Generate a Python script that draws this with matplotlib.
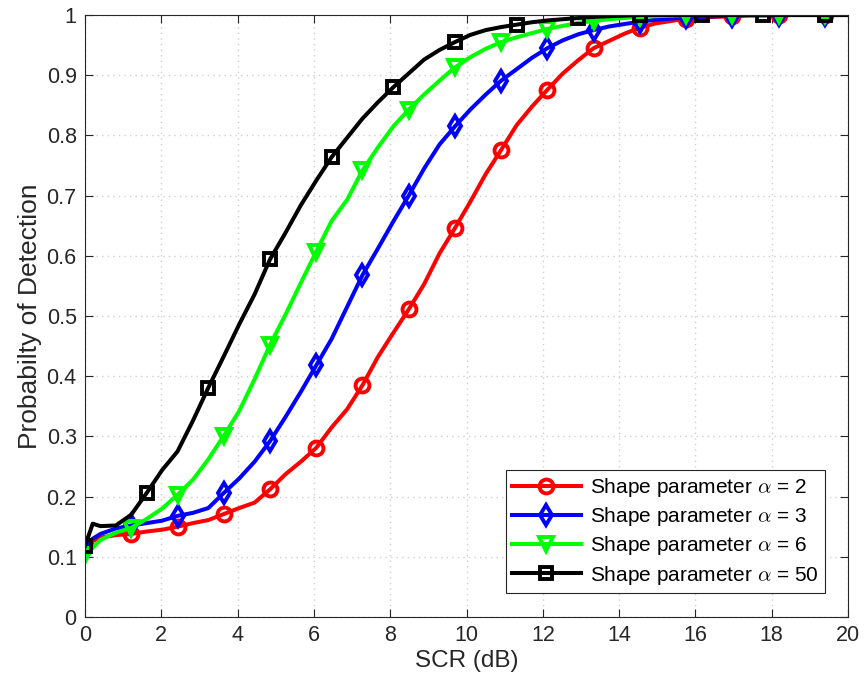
import numpy as np
import matplotlib
matplotlib.use("Agg")
import matplotlib.pyplot as plt

plt.rcParams['font.family'] = ['Liberation Sans', 'DejaVu Sans']
plt.rcParams['mathtext.fontset'] = 'cm'

# SCR sweep: 100 points from 0 to 20 dB; curves are stored at a subset of them
SCR_GRID = np.linspace(0, 20, 100)
SAMPLE_IDX = [0, 1] + list(range(2, 100, 2)) + [99]

PD_ALPHA_2 = [0.120, 0.126, 0.132, 0.136, 0.138, 0.142, 0.145, 0.150, 0.156, 0.161,
              0.171, 0.181, 0.190, 0.212, 0.237, 0.258, 0.281, 0.315, 0.345, 0.385,
              0.432, 0.472, 0.511, 0.553, 0.604, 0.646, 0.690, 0.736, 0.776, 0.817,
              0.848, 0.876, 0.903, 0.925, 0.945, 0.957, 0.969, 0.979, 0.986, 0.990,
              0.994, 0.996, 0.997, 0.998, 0.999, 0.999, 1.000, 1.000, 1.000, 1.000,
              1.000, 1.000]
PD_ALPHA_3 = [0.115, 0.130, 0.138, 0.147, 0.152, 0.156, 0.160, 0.168, 0.173, 0.181,
              0.206, 0.230, 0.258, 0.292, 0.332, 0.374, 0.418, 0.462, 0.515, 0.568,
              0.612, 0.657, 0.700, 0.745, 0.785, 0.815, 0.843, 0.868, 0.891, 0.910,
              0.929, 0.945, 0.958, 0.968, 0.975, 0.981, 0.985, 0.989, 0.992, 0.994,
              0.996, 0.997, 0.998, 0.999, 1.000, 1.000, 1.000, 1.000, 1.000, 1.000,
              1.000, 1.000]
PD_ALPHA_6 = [0.103, 0.115, 0.128, 0.140, 0.148, 0.163, 0.180, 0.203, 0.228, 0.262,
              0.301, 0.342, 0.395, 0.452, 0.502, 0.555, 0.607, 0.658, 0.693, 0.742,
              0.780, 0.815, 0.843, 0.868, 0.891, 0.913, 0.930, 0.944, 0.955, 0.963,
              0.970, 0.977, 0.982, 0.987, 0.990, 0.993, 0.995, 0.997, 0.998, 0.999,
              1.000, 1.000, 1.000, 1.000, 1.000, 1.000, 1.000, 1.000, 1.000, 1.000,
              1.000, 1.000]
PD_ALPHA_50 = [0.118, 0.155, 0.151, 0.152, 0.170, 0.206, 0.244, 0.275, 0.326, 0.381,
               0.433, 0.486, 0.536, 0.594, 0.638, 0.684, 0.725, 0.764, 0.796, 0.828,
               0.855, 0.880, 0.903, 0.926, 0.942, 0.955, 0.967, 0.975, 0.980, 0.984,
               0.988, 0.991, 0.993, 0.995, 0.997, 0.998, 0.999, 1.000, 1.000, 1.000,
               1.000, 1.000, 1.000, 1.000, 1.000, 1.000, 1.000, 1.000, 1.000, 1.000,
               1.000, 1.000]

LABELS = [r'Shape parameter $\alpha$ = 2', r'Shape parameter $\alpha$ = 3',
          r'Shape parameter $\alpha$ = 6', r'Shape parameter $\alpha$ = 50']
COLORS = ['#ff0000', '#0000ff', '#00ff00', '#000000']
MARKERS = ['o', 'd', 'v', 's']
MARK_STEP = [6, 6, 6, 8]

X_TICKS = list(range(0, 21, 2))
Y_TICKS = [0, 0.1, 0.2, 0.3, 0.4, 0.5, 0.6, 0.7, 0.8, 0.9, 1]
Y_TICK_LABELS = ['0', '0.1', '0.2', '0.3', '0.4', '0.5', '0.6', '0.7', '0.8', '0.9', '1']

x = SCR_GRID[SAMPLE_IDX]

fig = plt.figure(figsize=(8.64, 6.89), dpi=100)
ax = fig.add_axes([0.0984, 0.1045, 0.8831, 0.8737])

for y, lab, col, mk, step in zip([PD_ALPHA_2, PD_ALPHA_3, PD_ALPHA_6, PD_ALPHA_50],
                                 LABELS, COLORS, MARKERS, MARK_STEP):
    marks = [SAMPLE_IDX.index(i) for i in range(0, 100, step) if i in SAMPLE_IDX]
    ax.plot(x, y, color=col, lw=2.9, marker=mk, markevery=marks,
            markersize=10 if mk != 's' else 9, markerfacecolor='none',
            markeredgewidth=2.8, label=lab)

ax.set_xlim(0, 20)
ax.set_ylim(0, 1)
ax.set_xticks(X_TICKS)
ax.set_yticks(Y_TICKS)
ax.set_yticklabels(Y_TICK_LABELS)

text_col = '#262626'
ax.tick_params(direction='in', length=6, width=0.8, top=True, right=True,
               labelsize=15.5, colors=text_col, pad=6)
for sp in ax.spines.values():
    sp.set_color(text_col)
    sp.set_linewidth(0.8)

ax.grid(True, linestyle=(0, (1, 3)), color='#cfcfcf', linewidth=1.0)
ax.set_axisbelow(True)

ax.set_xlabel('SCR (dB)', fontsize=17.5, color=text_col, labelpad=3)
ax.set_ylabel('Probabilty of Detection', fontsize=19, color=text_col, labelpad=3)

leg = ax.legend(loc='lower right', bbox_to_anchor=(0.970, 0.040), fontsize=15,
                borderaxespad=0, handlelength=3.3, handletextpad=0.45,
                borderpad=0.3, labelspacing=0.3, fancybox=False, framealpha=1,
                edgecolor=text_col)
leg.get_frame().set_linewidth(0.8)

fig.savefig('out.png', dpi=100)
